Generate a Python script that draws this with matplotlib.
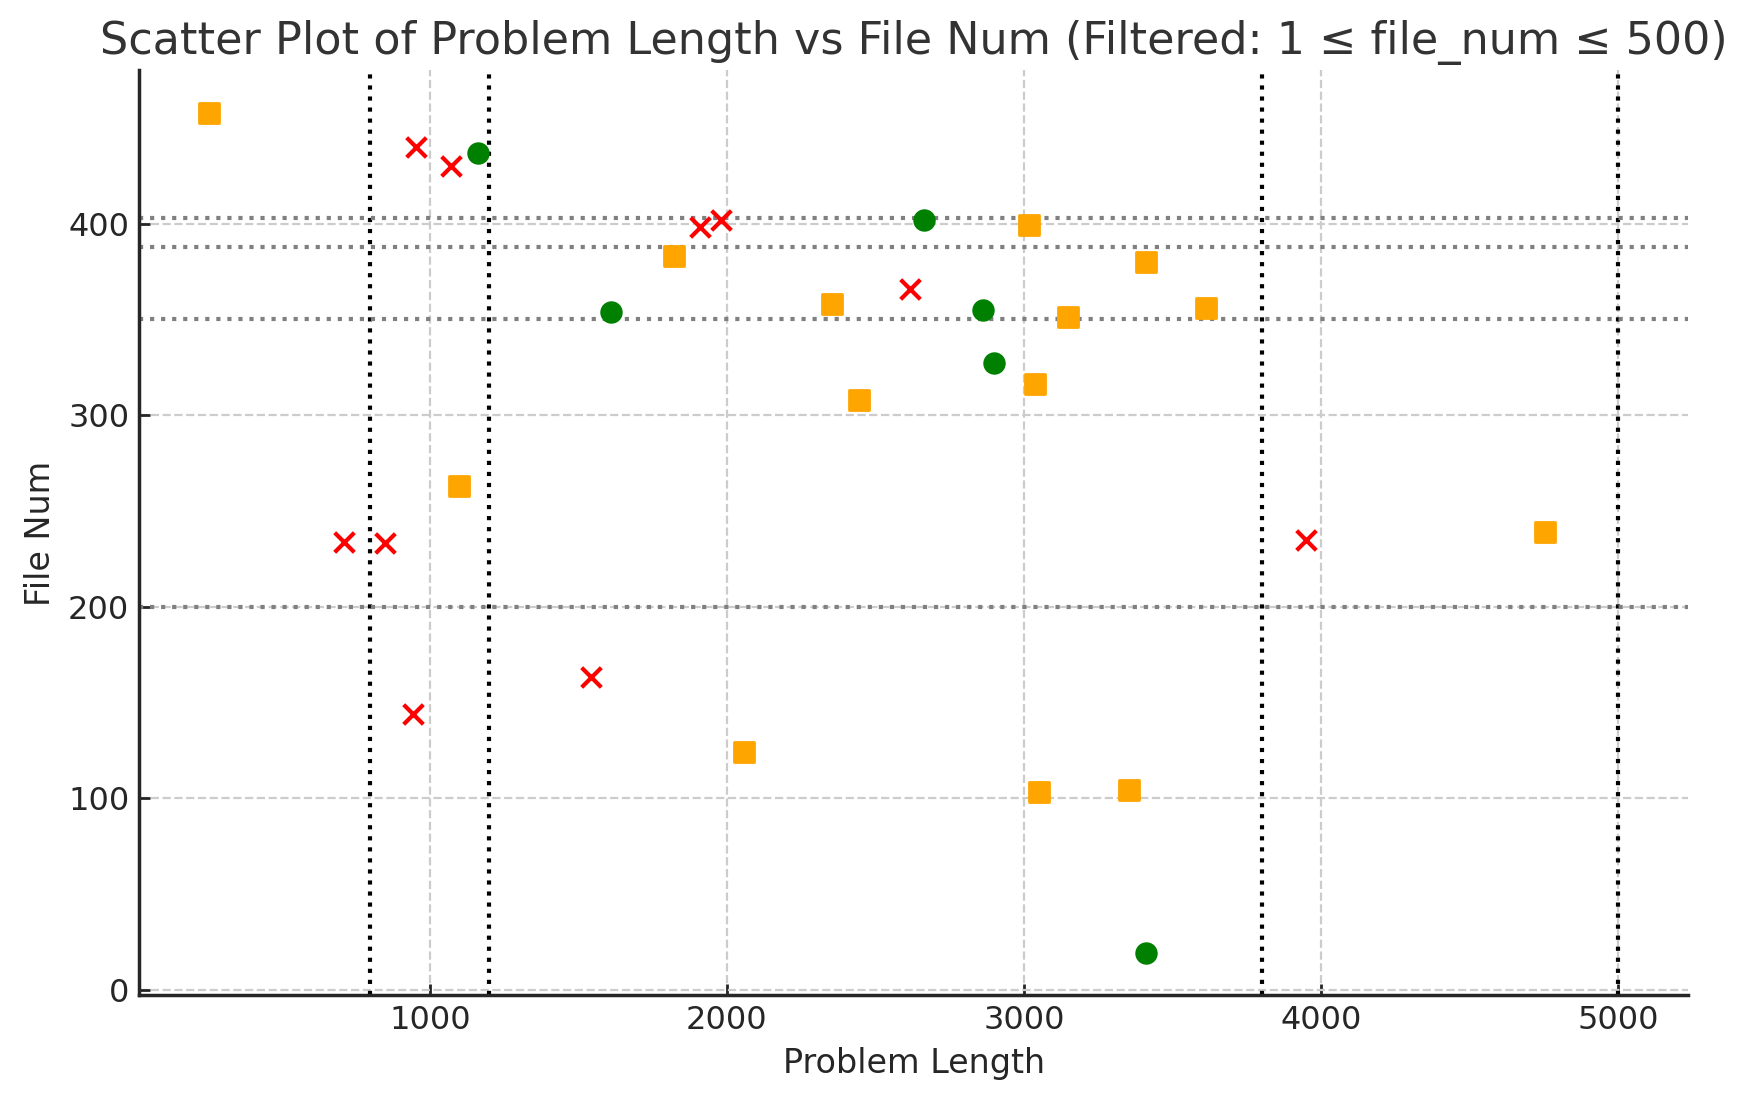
import matplotlib
matplotlib.use("Agg")
import matplotlib.pyplot as plt

# Orange squares
sq_x = [258, 1097, 1821, 2057, 2354, 2444, 3017, 3036, 3051, 3149, 3355, 3411, 3614, 4754]
sq_y = [458, 263, 383, 124, 358, 308, 399, 316, 103, 351, 104, 380, 356, 239]

# Red crosses
cx_x = [711, 850, 944, 955, 1071, 1544, 1911, 1979, 2616, 3951]
cx_y = [234, 233, 144, 440, 430, 163, 398, 402, 366, 235]

# Green circles
ci_x = [1161, 1611, 2665, 2864, 2898, 3411]
ci_y = [437, 354, 402, 355, 327, 19]

vlines = [800, 1200, 3800, 5000]
hlines = [403, 388, 350, 200]

plt.rcParams['font.family'] = ['DejaVu Sans']
fig = plt.figure(figsize=(8.73, 5.505), dpi=200)
ax = fig.add_axes([0.0796, 0.096, 0.8874, 0.840])

ax.scatter(sq_x, sq_y, marker='s', color='orange', s=50, zorder=3)
ax.scatter(cx_x, cx_y, marker='x', color='red', s=50, linewidths=1.5, zorder=3)
ax.scatter(ci_x, ci_y, marker='o', color='green', s=50, zorder=3)

for v in vlines:
    ax.axvline(v, color='black', linestyle=':', linewidth=1.5, zorder=2)
for h in hlines:
    ax.axhline(h, color='gray', linestyle=':', linewidth=1.5, zorder=2)

ax.set_title('Scatter Plot of Problem Length vs File Num (Filtered: 1 ≤ file_num ≤ 500)',
             fontsize=16, color='#333333')
ax.set_xlabel('Problem Length', fontsize=12, color='#262626')
ax.set_ylabel('File Num', fontsize=12, color='#262626')

ax.grid(True, linestyle='--', color='#cccccc', linewidth=0.8, zorder=0)
ax.set_axisbelow(True)
for s in ['top', 'right']:
    ax.spines[s].set_visible(False)
for s in ['left', 'bottom']:
    ax.spines[s].set_color('#262626')
    ax.spines[s].set_linewidth(1.25)
ax.tick_params(direction='in', length=4, width=1, colors='#262626', labelsize=11.5)

fig.savefig('out.png', dpi=200)
